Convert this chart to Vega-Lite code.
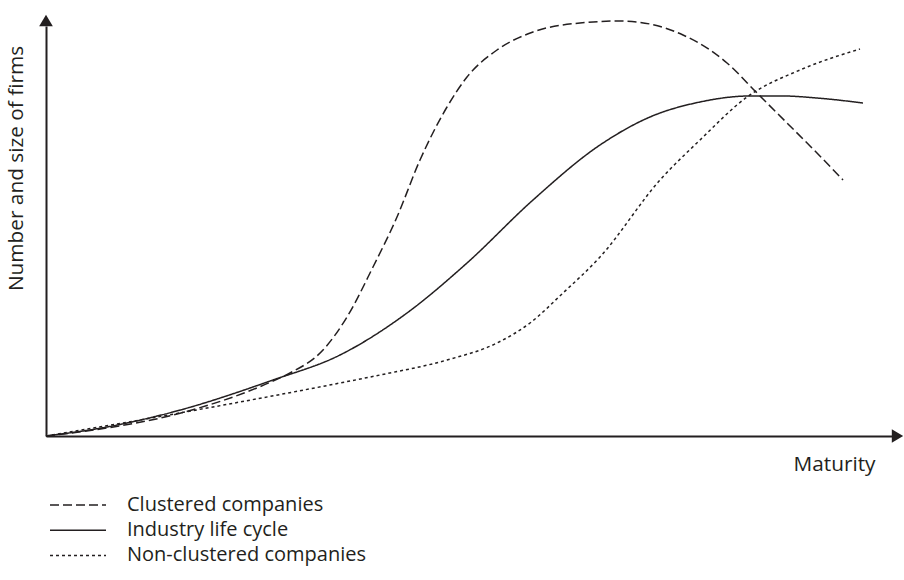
{
  "$schema": "https://vega.github.io/schema/vega-lite/v6.json",
  "width": 847,
  "height": 410,
  "autosize": {"type": "none"},
  "padding": {"left": 46, "top": 26, "right": 11, "bottom": 144},
  "background": "white",
  "config": {
    "view": {"stroke": null},
    "font": "Open Sans",
    "axis": {
      "domain": true, "domainColor": "#231f20", "domainWidth": 2,
      "ticks": false, "labels": false, "grid": false,
      "titleFontSize": 20.8, "titleFontWeight": "normal", "titleColor": "#231f20", "titleFont": "Open Sans"
    }
  },
  "layer": [
    {
      "data": {
        "values": [
          {"series": "Clustered companies", "x": 0, "y": 0},
          {"series": "Clustered companies", "x": 61, "y": 8},
          {"series": "Clustered companies", "x": 127, "y": 21},
          {"series": "Clustered companies", "x": 227, "y": 55},
          {"series": "Clustered companies", "x": 244, "y": 63},
          {"series": "Clustered companies", "x": 277, "y": 86},
          {"series": "Clustered companies", "x": 301, "y": 119},
          {"series": "Clustered companies", "x": 327, "y": 169},
          {"series": "Clustered companies", "x": 351, "y": 219},
          {"series": "Clustered companies", "x": 374, "y": 276},
          {"series": "Clustered companies", "x": 401, "y": 329},
          {"series": "Clustered companies", "x": 421, "y": 359},
          {"series": "Clustered companies", "x": 451, "y": 386},
          {"series": "Clustered companies", "x": 487, "y": 404},
          {"series": "Clustered companies", "x": 534, "y": 413},
          {"series": "Clustered companies", "x": 574, "y": 415},
          {"series": "Clustered companies", "x": 604, "y": 412},
          {"series": "Clustered companies", "x": 637, "y": 401},
          {"series": "Clustered companies", "x": 664, "y": 386},
          {"series": "Clustered companies", "x": 681, "y": 373},
          {"series": "Clustered companies", "x": 711, "y": 343},
          {"series": "Clustered companies", "x": 741, "y": 313},
          {"series": "Clustered companies", "x": 771, "y": 283},
          {"series": "Clustered companies", "x": 797, "y": 256},
          {"series": "Industry life cycle", "x": 0, "y": 0},
          {"series": "Industry life cycle", "x": 61, "y": 9},
          {"series": "Industry life cycle", "x": 127, "y": 24},
          {"series": "Industry life cycle", "x": 227, "y": 56},
          {"series": "Industry life cycle", "x": 294, "y": 81},
          {"series": "Industry life cycle", "x": 361, "y": 123},
          {"series": "Industry life cycle", "x": 421, "y": 173},
          {"series": "Industry life cycle", "x": 487, "y": 236},
          {"series": "Industry life cycle", "x": 554, "y": 291},
          {"series": "Industry life cycle", "x": 604, "y": 319},
          {"series": "Industry life cycle", "x": 654, "y": 334},
          {"series": "Industry life cycle", "x": 704, "y": 340},
          {"series": "Industry life cycle", "x": 737, "y": 340},
          {"series": "Industry life cycle", "x": 771, "y": 338},
          {"series": "Industry life cycle", "x": 817, "y": 333},
          {"series": "Non-clustered companies", "x": 0, "y": 0},
          {"series": "Non-clustered companies", "x": 94, "y": 16},
          {"series": "Non-clustered companies", "x": 194, "y": 34},
          {"series": "Non-clustered companies", "x": 294, "y": 53},
          {"series": "Non-clustered companies", "x": 334, "y": 61},
          {"series": "Non-clustered companies", "x": 401, "y": 76},
          {"series": "Non-clustered companies", "x": 451, "y": 93},
          {"series": "Non-clustered companies", "x": 484, "y": 113},
          {"series": "Non-clustered companies", "x": 517, "y": 143},
          {"series": "Non-clustered companies", "x": 554, "y": 179},
          {"series": "Non-clustered companies", "x": 614, "y": 256},
          {"series": "Non-clustered companies", "x": 654, "y": 296},
          {"series": "Non-clustered companies", "x": 701, "y": 339},
          {"series": "Non-clustered companies", "x": 754, "y": 366},
          {"series": "Non-clustered companies", "x": 814, "y": 387}
        ]
      },
      "mark": {"type": "line", "interpolate": "monotone", "strokeWidth": 1.5, "color": "#231f20", "clip": false},
      "encoding": {
        "x": {
          "field": "x", "type": "quantitative",
          "scale": {"domain": [0, 847], "nice": false, "zero": true},
          "axis": {
            "title": "Maturity", "titleX": 829, "titleY": 34,
            "titleAlign": "right", "titleBaseline": "alphabetic"
          }
        },
        "y": {
          "field": "y", "type": "quantitative",
          "scale": {"domain": [0, 410], "nice": false, "zero": true},
          "axis": {
            "title": "Number and size of firms", "titleX": -24, "titleY": 142,
            "titleAngle": -90, "titleAlign": "center", "titleBaseline": "alphabetic"
          }
        },
        "strokeDash": {
          "field": "series", "type": "nominal",
          "scale": {
            "domain": ["Clustered companies", "Industry life cycle", "Non-clustered companies"],
            "range": [[9, 4], [1, 0], [3, 3]]
          },
          "legend": {
            "orient": "none", "legendX": 22, "legendY": 469, "title": null,
            "symbolType": "M-4,0H4", "symbolSize": 196, "symbolStrokeWidth": 1.5,
            "symbolStrokeColor": "#231f20", "symbolFillColor": "transparent",
            "labelFontSize": 20, "labelFont": "Open Sans", "labelColor": "#231f20",
            "labelOffset": 39, "rowPadding": 5.2, "labelLimit": 400
          }
        }
      }
    },
    {
      "data": {"values": [{}]},
      "mark": {"type": "point", "shape": "M-1,-1.2L1,0L-1,1.2Z", "filled": true, "size": 130, "color": "#231f20", "opacity": 1, "clip": false},
      "encoding": {
        "x": {"datum": 851.5, "type": "quantitative", "scale": {"domain": [0, 847], "nice": false, "zero": true}, "axis": {"title": "Maturity", "titleX": 829, "titleY": 34, "titleAlign": "right", "titleBaseline": "alphabetic"}},
        "y": {"datum": 0, "type": "quantitative", "scale": {"domain": [0, 410], "nice": false, "zero": true}, "axis": {"title": "Number and size of firms", "titleX": -24, "titleY": 142, "titleAngle": -90, "titleAlign": "center", "titleBaseline": "alphabetic"}}
      }
    },
    {
      "data": {"values": [{}]},
      "mark": {"type": "point", "shape": "M-1.2,1L0,-1L1.2,1Z", "filled": true, "size": 130, "color": "#231f20", "opacity": 1, "clip": false},
      "encoding": {
        "x": {"datum": 0, "type": "quantitative", "scale": {"domain": [0, 847], "nice": false, "zero": true}, "axis": {"title": "Maturity", "titleX": 829, "titleY": 34, "titleAlign": "right", "titleBaseline": "alphabetic"}},
        "y": {"datum": 415.5, "type": "quantitative", "scale": {"domain": [0, 410], "nice": false, "zero": true}, "axis": {"title": "Number and size of firms", "titleX": -24, "titleY": 142, "titleAngle": -90, "titleAlign": "center", "titleBaseline": "alphabetic"}}
      }
    }
  ]
}
